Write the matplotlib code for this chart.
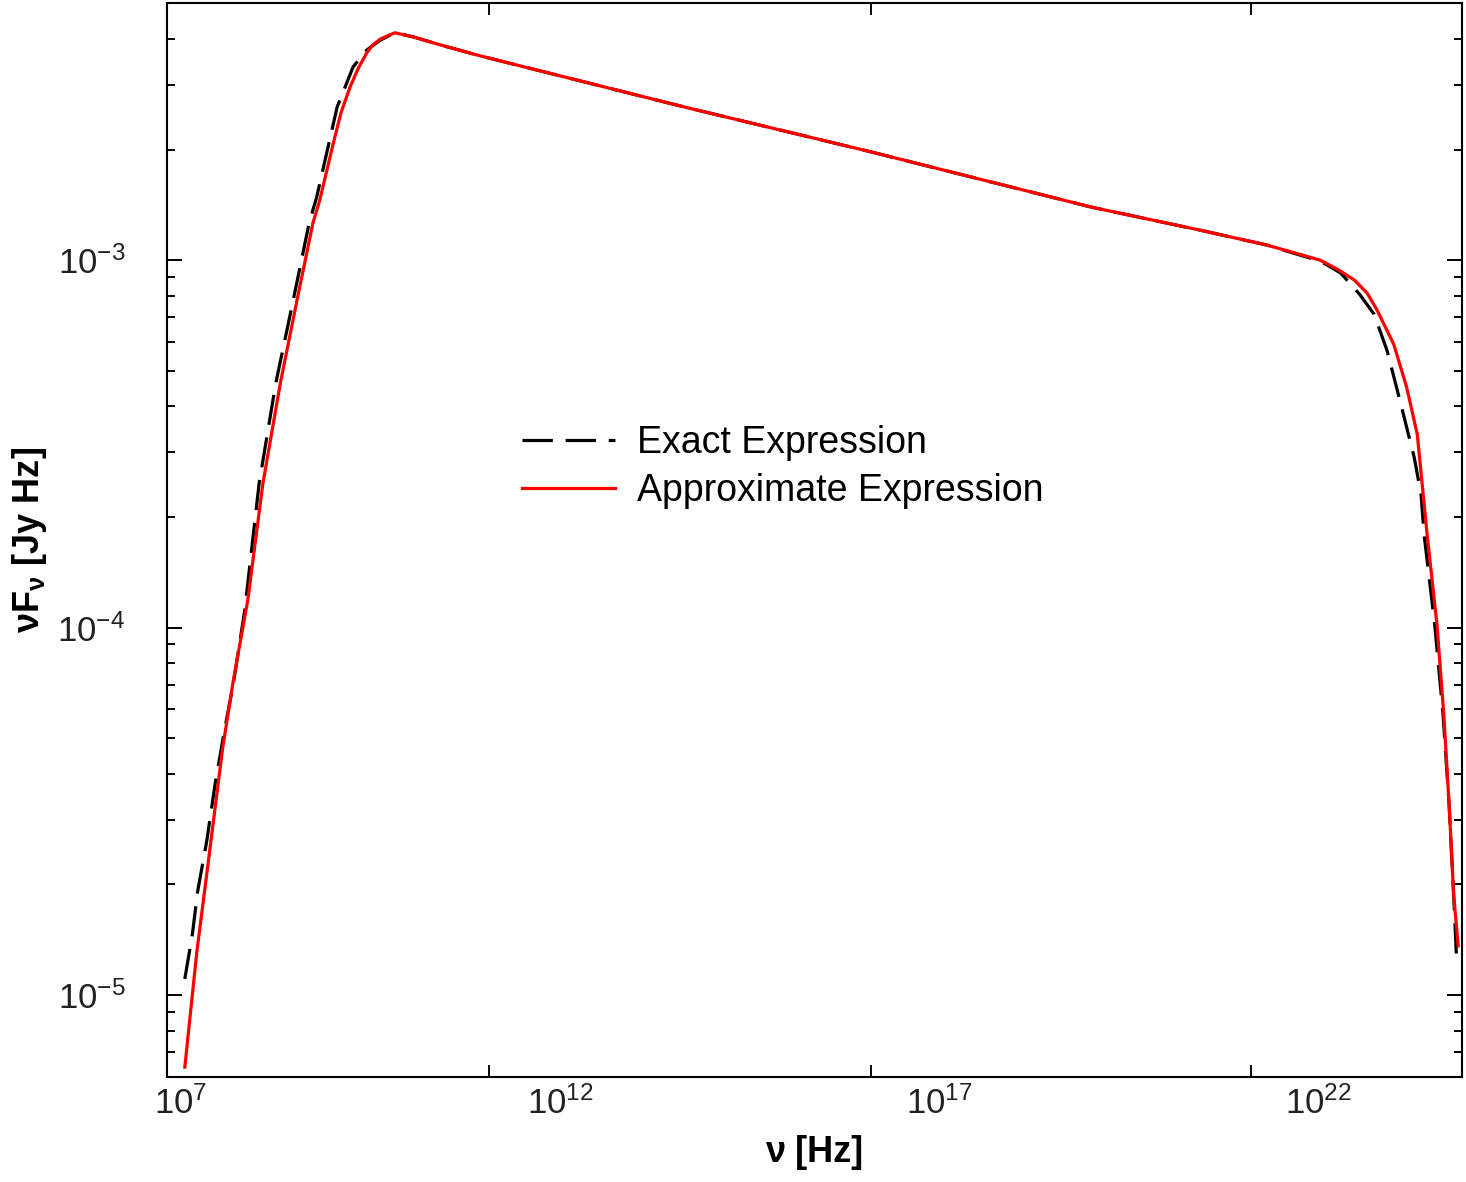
import numpy as np
import matplotlib
matplotlib.use("Agg")
import matplotlib.pyplot as plt
from matplotlib.ticker import FixedLocator, NullFormatter, FixedFormatter

plt.rcParams['font.family'] = ['Liberation Sans', 'DejaVu Sans']
plt.rcParams['mathtext.fontset'] = 'custom'
plt.rcParams['mathtext.rm'] = 'Liberation Sans'
plt.rcParams['mathtext.bf'] = 'Liberation Sans:bold'

# log10(nu [Hz]) and log10(nu F_nu [Jy Hz])
approx_lognu = [7.05, 7.21, 7.34, 7.45, 7.55, 7.69, 7.88, 8.08, 8.31, 8.53, 8.74,
                8.83, 9.01, 9.11, 9.23, 9.34, 9.45, 9.53, 9.63, 9.82, 10.06,
                10.42, 10.95, 13.64, 16.06, 19.02, 20.44, 21.33, 21.76, 22.03,
                22.26, 22.48, 22.65, 22.78, 23.00, 23.17, 23.31, 23.44, 23.57,
                23.66, 23.73, 23.79, 23.85]
approx_logf = [-5.196, -4.880, -4.670, -4.490, -4.327, -4.144, -3.926, -3.608,
               -3.335, -3.109, -2.899, -2.837, -2.681, -2.599, -2.529, -2.477,
               -2.436, -2.414, -2.398, -2.381, -2.392, -2.414, -2.444, -2.583,
               -2.703, -2.856, -2.918, -2.959, -2.984, -3.000, -3.025, -3.054,
               -3.090, -3.136, -3.229, -3.346, -3.474, -3.747, -3.992, -4.237,
               -4.482, -4.728, -4.866]

exact_lognu = [7.05, 7.15, 7.22, 7.34, 7.45, 7.58, 7.69, 7.84, 8.03, 8.25, 8.48,
               8.69, 8.79, 9.06, 9.27, 9.45, 9.63, 9.82, 10.06, 10.42, 10.95,
               13.64, 16.06, 19.02, 20.44, 21.33, 21.76, 22.03, 22.30, 22.55,
               22.74, 22.91, 23.08, 23.27, 23.36, 23.40, 23.54, 23.65, 23.73,
               23.79, 23.83]
exact_logf = [-4.956, -4.834, -4.717, -4.580, -4.425, -4.272, -4.153, -3.954,
              -3.608, -3.335, -3.109, -2.899, -2.828, -2.583, -2.474, -2.428,
              -2.401, -2.381, -2.392, -2.414, -2.444, -2.583, -2.703, -2.856,
              -2.918, -2.959, -2.986, -3.002, -3.035, -3.093, -3.147, -3.245,
              -3.381, -3.537, -3.638, -3.747, -3.992, -4.237, -4.482, -4.728,
              -4.910]

xlabel_exps = [7, 12, 17, 22]
xtick_exps = [11.06, 16.10, 21.12]

fig = plt.figure(figsize=(14.66, 11.82), dpi=100)
ax = fig.add_axes([167/1466, 1 - 1077/1182, 1295/1466, 1074/1182])

ax.plot(10**np.array(exact_lognu), 10**np.array(exact_logf), color='black',
        lw=2.3, dashes=(9.5, 4), label='Exact Expression')
ax.plot(10**np.array(approx_lognu), 10**np.array(approx_logf), color='red',
        lw=2.3, label='Approximate Expression')

ax.set_xscale('log')
ax.set_yscale('log')
ax.set_xlim(10**6.815, 10**23.9)
ax.set_ylim(10**-5.223, 10**-2.30)

ax.xaxis.set_major_locator(FixedLocator([10.0**e for e in xlabel_exps]))
ax.xaxis.set_major_formatter(FixedFormatter([r'$\mathregular{10^{%d}}$' % e for e in xlabel_exps]))
ax.xaxis.set_minor_locator(FixedLocator([10.0**e for e in xtick_exps]))
ax.xaxis.set_minor_formatter(NullFormatter())
ax.tick_params(axis='x', which='major', length=0, pad=7, labelsize=25,
               labelcolor='#222222')
ax.tick_params(axis='x', which='minor', direction='in', length=8.6, width=1.4,
               top=True, bottom=True)

ax.set_yticks([1e-5, 1e-4, 1e-3])
ax.set_yticklabels([r'$\mathregular{10^{-5}}$', r'$\mathregular{10^{-4}}$',
                    r'$\mathregular{10^{-3}}$'])
ax.tick_params(axis='y', which='major', direction='in', length=11, width=1.4,
               left=True, right=True, pad=30, labelsize=25, labelcolor='#222222')
ax.tick_params(axis='y', which='minor', direction='in', length=6, width=1.4,
               left=True, right=True)

for s in ax.spines.values():
    s.set_linewidth(1.5)

ax.set_xlabel(r'ν [Hz]', fontsize=26, fontweight='bold', labelpad=10)
ax.set_ylabel(r'νF$_\mathbf{ν}$ [Jy Hz]', fontsize=26, fontweight='bold', labelpad=6)

ax.legend(loc='upper left', bbox_to_anchor=(0.274, 0.607), frameon=False,
          fontsize=27, handlelength=2.48, handletextpad=0.59, borderpad=0,
          borderaxespad=0, labelspacing=0.33)

fig.savefig('out.png', dpi=100, facecolor='white')
